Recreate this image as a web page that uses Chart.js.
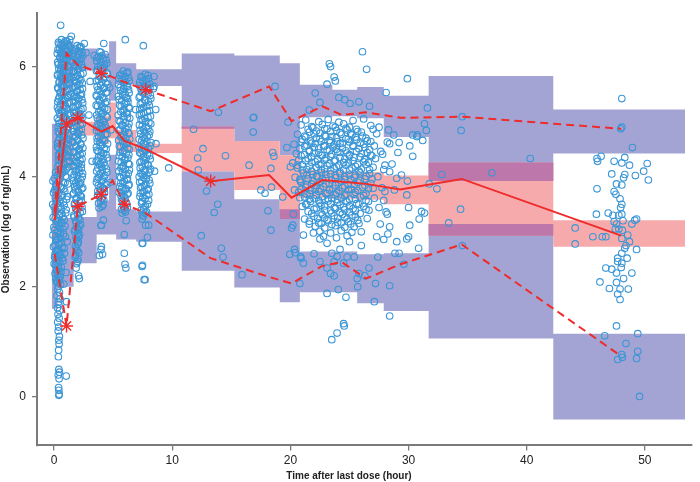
<!DOCTYPE html>
<html><head><meta charset="utf-8">
<script src="https://cdn.jsdelivr.net/npm/chart.js@4.4.1/dist/chart.umd.min.js"></script>
<style>html,body{margin:0;padding:0;background:#fff;}canvas{display:block;}</style>
</head><body>
<canvas id="c" width="700" height="482"></canvas>
<script>
// ---- VPC bins (time after last dose, hours) ----
const binEdges = [-0.2, 0.3, 1.65, 3.6, 4.65, 5.25, 6.95, 10.8, 15.25, 19.1, 20.8, 23.55, 25.65, 27.9, 31.7, 42.25, 53.4];
const binMid   = [0.05, 1.05, 2.0, 4.0, 4.95, 5.95, 7.75, 13.25, 18.2, 20.1, 22.7, 24.35, 26.4, 29.3, 34.5, 48.0];

// observed percentiles
const obsP95 = [3.35, 6.24, 6.03, 5.88, 5.81, 5.72, 5.58, 5.19, 5.64, 5.01, 5.28, 5.12, 5.17, 5.07, 5.09, 4.87];
const obsP50 = [3.21, 4.96, 5.07, 4.82, 4.92, 4.65, 4.50, 3.92, 4.03, 3.62, 3.94, 3.91, 3.87, 3.77, 3.96, 2.93];
const obsP05 = [2.60, 1.29, 3.46, 3.68, 3.93, 3.50, 3.34, 2.52, 2.18, 2.06, 2.38, 2.45, 2.15, 2.41, 2.77, 0.74];

// simulated confidence intervals per bin
const ciP95Lo = [3.30, 5.60, 5.93, 5.94, 5.38, 5.68, 5.65, 4.87, 4.65, 4.39, 5.08, 5.10, 5.06, 4.72, 3.92, 4.42];
const ciP95Hi = [4.96, 6.45, 6.33, 6.24, 6.46, 6.06, 5.95, 6.24, 6.20, 6.06, 5.67, 5.58, 5.63, 5.47, 5.83, 5.22];
const ciP50Lo = [2.90, 4.15, 4.75, 4.60, 4.70, 4.45, 4.43, 4.10, 3.76, 3.23, 3.62, 3.60, 3.58, 3.50, 2.93, 2.73];
const ciP50Hi = [3.45, 4.80, 5.00, 5.10, 5.35, 4.85, 4.60, 4.91, 4.65, 4.39, 4.12, 4.10, 4.08, 4.02, 4.26, 3.21];
const ciP05Lo = [1.60, 2.00, 2.43, 2.95, 2.95, 2.86, 2.82, 2.29, 1.99, 1.72, 1.90, 1.90, 1.70, 1.56, 1.06, -0.41];
const ciP05Hi = [2.95, 3.25, 3.27, 3.57, 4.40, 3.41, 3.37, 4.10, 3.59, 3.41, 2.64, 2.64, 2.59, 2.61, 3.14, 1.15];

const xTicks = [0, 10, 20, 30, 40, 50];
const yTicks = [0, 2, 4, 6];

// ---- observations [time, log conc] ----
const obsT1Upper = [[0.62,6.49],[1.05,6.46],[0.85,6.43],[0.41,6.41],[1.21,6.39],[0.70,6.36],[0.98,6.33],[0.33,6.31],[1.12,6.28],[0.55,6.25],[0.88,6.22],[1.30,6.20],[0.47,6.17],[0.76,6.14],[1.08,6.11],[0.30,6.08],[0.93,6.05],[0.60,6.02],[1.25,5.99],[0.40,5.96],[0.82,5.93],[1.02,5.90],[0.52,5.87],[0.28,5.84],[1.17,5.81],[0.71,5.78],[0.95,5.75],[0.44,5.72],[1.32,5.69],[0.63,5.66],[0.86,5.63],[0.35,5.60],[1.10,5.57],[0.57,5.54],[0.79,5.51],[1.22,5.48],[0.45,5.45],[0.99,5.42],[0.68,5.39],[0.31,5.36],[1.14,5.33],[0.84,5.30],[0.50,5.27],[1.03,5.24],[0.38,5.21],[0.74,5.18],[1.27,5.15],[0.59,5.12],[0.91,5.09],[0.27,5.06],[1.07,5.03],[0.66,5.00],[0.43,4.97],[0.96,4.94],[1.19,4.91],[0.54,4.88],[0.80,4.85],[0.34,4.82],[1.11,4.79],[0.69,4.76],[0.89,4.73],[0.48,4.70],[1.24,4.67],[0.61,4.64],[0.29,4.61],[1.00,4.58],[0.77,4.55],[0.42,4.52],[1.15,4.49],[0.56,4.46],[0.87,4.43],[0.36,4.40],[1.06,4.37],[0.73,4.34],[0.49,4.31],[1.28,4.28],[0.64,4.25],[0.92,4.22],[0.32,4.19],[1.09,4.16],[0.58,4.13],[0.81,4.10],[0.55,6.75],[1.32,6.49],[1.45,6.55]];
const obsT1UpperB = [[0.95,6.47],[0.36,6.44],[1.15,6.42],[0.58,6.40],[0.80,6.37],[1.35,6.35],[0.46,6.32],[1.02,6.29],[0.68,6.27],[0.27,6.24],[1.20,6.21],[0.77,6.19],[0.51,6.16],[1.00,6.13],[1.38,6.10],[0.64,6.07],[0.35,6.04],[1.13,6.01],[0.87,5.98],[0.55,5.95],[1.28,5.92],[0.72,5.89],[0.32,5.86],[0.97,5.83],[0.60,5.80],[1.33,5.77],[0.82,5.74],[0.42,5.71],[1.06,5.68],[0.74,5.65],[0.30,5.62],[1.24,5.59],[0.92,5.56],[0.50,5.53],[1.36,5.50],[0.66,5.47],[1.12,5.44],[0.37,5.41],[0.85,5.38],[1.26,5.35],[0.56,5.32],[0.96,5.29],[0.28,5.26],[1.18,5.23],[0.63,5.20],[0.90,5.17],[0.46,5.14],[1.34,5.11],[0.78,5.08],[1.04,5.05],[0.40,5.02],[0.98,4.99],[1.29,4.96],[0.70,4.93],[0.33,4.90],[1.16,4.87],[0.60,4.84],[0.94,4.81],[0.45,4.78],[1.30,4.75],[0.78,4.72],[1.05,4.69],[0.38,4.66],[0.88,4.63],[1.20,4.60],[0.55,4.57],[0.30,4.54],[1.02,4.51],[0.71,4.48],[1.33,4.45],[0.47,4.42],[0.93,4.39],[1.18,4.36],[0.62,4.33],[0.35,4.30],[1.07,4.27],[0.80,4.24],[0.44,4.21],[1.25,4.18],[0.67,4.15],[1.00,4.12],[0.39,4.09]];
const obsT1Lower = [[0.12,4.08],[0.55,4.05],[0.95,4.01],[0.02,3.97],[0.38,3.94],[0.78,3.90],[1.15,3.87],[0.20,3.83],[0.62,3.80],[0.05,3.76],[0.90,3.73],[0.33,3.69],[0.70,3.66],[0.10,3.62],[1.05,3.59],[0.45,3.55],[0.25,3.52],[0.85,3.48],[0.00,3.45],[0.58,3.41],[0.15,3.38],[0.98,3.34],[0.40,3.31],[0.72,3.27],[0.08,3.24],[0.28,3.20],[0.65,3.17],[0.18,3.13],[0.92,3.10],[0.48,3.06],[0.03,3.03],[0.35,2.99],[0.80,2.96],[0.13,2.92],[0.55,2.89],[0.22,2.85],[1.10,2.82],[0.42,2.78],[0.07,2.75],[0.68,2.71],[0.30,2.68],[0.16,2.64],[0.88,2.61],[0.50,2.57],[0.04,2.54],[0.36,2.50],[0.75,2.47],[0.24,2.43],[0.11,2.40],[0.60,2.36],[0.40,2.33],[0.19,2.29],[1.00,2.26],[0.30,2.22],[0.52,2.19],[0.14,2.15],[0.45,2.12],[0.27,2.08],[0.82,2.05],[0.35,2.01]];
const obsT1LowerB = [[0.70,4.07],[0.28,4.03],[1.08,3.99],[0.48,3.96],[-0.10,3.92],[0.92,3.89],[0.15,3.85],[0.52,3.82],[0.82,3.78],[0.25,3.74],[-0.05,3.71],[0.60,3.67],[1.12,3.64],[0.38,3.61],[0.18,3.57],[0.78,3.54],[-0.12,3.50],[0.55,3.47],[0.32,3.43],[1.02,3.40],[0.10,3.36],[0.65,3.33],[0.45,3.29],[-0.08,3.26],[0.85,3.22],[0.20,3.19],[0.58,3.15],[0.38,3.12],[-0.02,3.08],[0.75,3.05],[0.25,3.01],[0.52,2.98],[-0.10,2.94],[0.95,2.91],[0.32,2.87],[0.15,2.84],[0.62,2.80],[0.42,2.77],[-0.05,2.73],[0.85,2.70],[0.22,2.66],[0.55,2.63],[0.08,2.59],[0.30,2.56],[0.70,2.52],[0.18,2.49],[0.48,2.45],[0.00,2.42],[0.35,2.38],[0.25,2.31],[0.58,2.27],[0.08,2.24],[0.40,2.17],[0.20,2.10],[0.55,2.04]];
const obsT1Tail = [[0.30,1.96],[0.45,1.90],[0.25,1.84],[0.50,1.78],[0.35,1.72],[0.40,1.68],[0.28,1.62],[0.47,1.57],[0.33,1.50],[0.42,1.43],[0.30,1.36],[0.38,1.27],[0.35,1.20],[0.45,1.10],[0.40,1.03],[0.42,0.96],[0.38,0.85],[0.36,0.73],[0.40,0.50],[0.45,0.45],[0.35,0.40],[0.42,0.33],[0.38,0.17],[0.40,0.12],[0.43,0.05],[0.40,0.03],[1.02,0.38],[1.05,1.73]];
const obsT2 = [[1.95,6.38],[2.20,6.34],[1.72,6.30],[2.35,6.26],[2.05,6.22],[1.60,6.18],[2.28,6.14],[1.88,6.10],[2.12,6.06],[1.70,6.02],[2.40,5.98],[1.98,5.94],[1.63,5.90],[2.25,5.86],[1.85,5.82],[2.10,5.78],[1.75,5.74],[2.38,5.70],[2.00,5.66],[1.58,5.62],[2.20,5.58],[1.90,5.54],[2.32,5.50],[1.68,5.46],[2.08,5.42],[1.80,5.38],[2.42,5.34],[1.95,5.30],[1.62,5.26],[2.27,5.22],[1.87,5.18],[2.15,5.14],[1.73,5.10],[2.36,5.06],[2.02,5.02],[1.57,4.98],[2.22,4.94],[1.92,4.90],[2.30,4.86],[1.66,4.82],[2.06,4.78],[1.82,4.74],[2.44,4.70],[1.97,4.66],[1.60,4.62],[2.24,4.58],[1.86,4.54],[2.13,4.50],[1.71,4.46],[2.37,4.42],[2.00,4.38],[1.64,4.34],[2.19,4.30],[1.89,4.26],[2.31,4.22],[1.69,4.18],[2.09,4.14],[1.79,4.10],[2.41,4.06],[1.94,4.02],[1.61,3.98],[2.26,3.94],[1.84,3.90],[2.16,3.86],[1.74,3.82],[2.34,3.78],[2.03,3.74],[1.66,3.70],[2.21,3.66],[1.91,3.62],[2.29,3.57],[1.76,3.52],[2.07,3.47],[1.83,3.42],[2.39,3.37],[1.98,3.32],[1.70,3.27],[2.18,3.22],[1.88,3.16],[2.12,3.10],[1.78,3.04],[2.00,2.97],[1.85,2.90],[2.05,2.82],[1.80,2.74],[1.95,2.66],[1.82,2.58],[2.02,2.50],[1.90,2.42],[1.86,2.34],[2.07,2.20],[2.13,2.15],[2.16,6.36],[2.55,6.42],[2.70,6.25],[3.05,5.73],[2.94,5.12],[3.22,4.28],[2.07,3.04],[2.07,2.91]];
const obsT2B = [[2.28,6.36],[1.82,6.32],[2.10,6.28],[1.65,6.24],[2.42,6.20],[1.95,6.16],[2.18,6.12],[1.58,6.08],[2.32,6.04],[1.85,6.00],[2.06,5.96],[1.70,5.92],[2.45,5.88],[2.00,5.84],[1.62,5.80],[2.26,5.76],[1.90,5.72],[2.14,5.68],[1.76,5.64],[2.40,5.60],[1.98,5.56],[1.60,5.52],[2.22,5.48],[1.87,5.44],[2.35,5.40],[1.68,5.36],[2.04,5.32],[1.80,5.28],[2.44,5.24],[2.10,5.20],[1.64,5.16],[2.28,5.12],[1.93,5.08],[2.17,5.04],[1.72,5.00],[2.38,4.96],[1.88,4.92],[1.60,4.88],[2.12,4.84],[1.95,4.80],[2.33,4.76],[1.74,4.72],[2.02,4.68],[1.57,4.64],[2.26,4.60],[1.84,4.56],[2.43,4.52],[2.05,4.48],[1.67,4.44],[2.20,4.40],[1.92,4.36],[2.36,4.32],[1.75,4.28],[2.10,4.24],[1.62,4.20],[2.30,4.16],[1.86,4.12],[2.16,4.08],[1.70,4.04],[2.38,4.00],[2.00,3.96],[1.64,3.92],[2.24,3.88],[1.90,3.84],[2.42,3.80],[1.78,3.76],[2.08,3.72],[1.60,3.68],[2.30,3.64],[1.86,3.60],[2.14,3.55],[1.72,3.50],[2.36,3.45],[1.94,3.40],[2.20,3.35],[1.66,3.30],[2.05,3.25],[1.82,3.20],[2.25,3.13],[1.96,3.07],[1.72,3.01],[2.15,2.94],[1.92,2.86],[2.00,2.78],[1.88,2.70],[2.08,2.62],[1.78,2.54],[1.98,2.46]];
const obsT4 = [[4.20,6.42],[3.85,6.27],[4.05,6.20],[3.62,6.16],[4.40,6.12],[3.95,6.08],[4.25,6.04],[3.70,6.00],[4.12,5.96],[3.58,5.92],[4.48,5.88],[3.90,5.84],[4.30,5.80],[3.75,5.76],[4.02,5.72],[4.55,5.68],[3.64,5.64],[4.18,5.60],[3.88,5.56],[4.38,5.52],[3.56,5.48],[4.08,5.44],[3.80,5.40],[4.45,5.36],[3.98,5.32],[3.68,5.28],[4.28,5.24],[3.92,5.20],[4.15,5.16],[3.60,5.12],[4.50,5.08],[3.84,5.04],[4.22,5.00],[3.72,4.96],[4.05,4.92],[4.42,4.88],[3.58,4.84],[3.96,4.80],[4.33,4.76],[3.78,4.72],[4.10,4.68],[3.66,4.64],[4.52,4.60],[3.90,4.56],[4.24,4.52],[3.62,4.48],[4.00,4.44],[4.40,4.40],[3.76,4.36],[4.14,4.32],[3.56,4.28],[3.94,4.24],[4.30,4.20],[3.70,4.16],[4.07,4.12],[4.46,4.08],[3.82,4.04],[4.20,4.00],[3.64,3.96],[3.99,3.92],[4.36,3.88],[3.74,3.84],[4.12,3.80],[3.88,3.76],[4.26,3.71],[3.68,3.66],[4.03,3.61],[3.93,3.55],[4.15,3.49],[3.80,3.43],[4.00,3.12],[4.00,2.73],[3.97,2.68],[4.10,2.59],[3.83,2.57],[4.05,3.60],[3.97,6.26],[4.70,5.62],[4.80,4.85],[4.75,3.90],[3.40,6.20],[4.17,3.21],[3.97,3.12]];
const obsT4B = [[4.32,6.22],[3.76,6.18],[4.15,6.14],[3.60,6.10],[4.45,6.06],[3.92,6.02],[4.22,5.98],[3.68,5.94],[4.05,5.90],[4.52,5.86],[3.82,5.82],[4.16,5.78],[3.58,5.74],[4.36,5.70],[3.94,5.66],[4.26,5.62],[3.72,5.58],[4.48,5.54],[3.98,5.50],[3.62,5.46],[4.20,5.42],[3.86,5.38],[4.32,5.34],[3.56,5.30],[4.10,5.26],[4.50,5.22],[3.78,5.18],[4.02,5.14],[4.40,5.10],[3.66,5.06],[4.12,5.02],[3.90,4.98],[4.30,4.94],[3.60,4.90],[4.18,4.86],[3.80,4.82],[4.48,4.78],[3.98,4.74],[3.64,4.70],[4.26,4.66],[3.86,4.62],[4.08,4.58],[3.58,4.54],[4.40,4.50],[3.74,4.46],[4.18,4.42],[3.94,4.38],[4.50,4.34],[3.66,4.30],[4.22,4.26],[3.84,4.22],[4.04,4.18],[4.42,4.14],[3.60,4.10],[3.96,4.06],[4.30,4.02],[3.76,3.98],[4.14,3.94],[3.58,3.90],[4.46,3.86],[3.92,3.82],[4.24,3.78],[3.70,3.74],[4.08,3.69],[3.84,3.64],[4.20,3.58],[3.76,3.52],[4.05,3.46]];
const obsT6 = [[6.02,6.49],[5.85,5.92],[6.15,5.88],[5.55,5.84],[6.30,5.80],[5.75,5.76],[6.05,5.72],[5.45,5.68],[6.22,5.64],[5.90,5.60],[5.62,5.56],[6.35,5.52],[5.80,5.48],[6.10,5.44],[5.50,5.40],[6.25,5.36],[5.95,5.32],[5.68,5.28],[6.38,5.24],[5.83,5.20],[6.12,5.16],[5.42,5.12],[6.20,5.08],[5.92,5.04],[5.60,5.00],[6.33,4.96],[5.78,4.92],[6.07,4.88],[5.48,4.84],[6.27,4.80],[5.88,4.76],[5.65,4.72],[6.40,4.68],[5.82,4.64],[6.14,4.60],[5.52,4.56],[6.23,4.52],[5.97,4.48],[5.58,4.44],[6.32,4.40],[5.76,4.36],[6.04,4.32],[5.46,4.28],[6.28,4.24],[5.86,4.20],[5.66,4.16],[6.37,4.12],[5.80,4.08],[6.10,4.04],[5.54,4.00],[6.21,3.96],[5.94,3.92],[5.62,3.88],[6.30,3.84],[5.74,3.80],[6.03,3.76],[5.50,3.72],[6.18,3.68],[5.90,3.64],[5.70,3.59],[6.08,3.54],[5.84,3.49],[6.20,3.44],[5.96,3.39],[5.76,3.34],[5.94,2.95],[5.94,2.61],[6.00,2.41],[6.07,2.34],[6.10,3.20],[6.90,5.22]];
const obsT6B = [[6.25,5.90],[5.70,5.86],[6.00,5.82],[5.48,5.78],[6.36,5.74],[5.88,5.70],[6.14,5.66],[5.58,5.62],[6.30,5.58],[5.78,5.54],[6.02,5.50],[5.44,5.46],[6.22,5.42],[5.72,5.38],[6.08,5.34],[5.55,5.30],[6.32,5.26],[5.92,5.22],[5.64,5.18],[6.18,5.14],[5.86,5.10],[6.40,5.06],[5.50,5.02],[6.04,4.98],[5.74,4.94],[6.26,4.90],[5.60,4.86],[5.98,4.82],[6.34,4.78],[5.70,4.74],[6.06,4.70],[5.46,4.66],[6.20,4.62],[5.90,4.58],[5.62,4.54],[6.36,4.50],[5.80,4.46],[6.12,4.42],[5.52,4.38],[6.24,4.34],[5.94,4.30],[5.68,4.26],[6.38,4.22],[5.76,4.18],[6.02,4.14],[5.48,4.10],[6.28,4.06],[5.88,4.02],[5.64,3.98],[6.16,3.94],[5.82,3.90],[6.34,3.86],[5.56,3.82],[6.10,3.78],[5.84,3.74],[6.26,3.70],[5.66,3.66],[6.00,3.62],[5.78,3.56],[6.14,3.51],[5.90,3.46],[5.70,3.41],[6.04,3.36]];
const obsT8 = [[7.55,6.38],[7.70,5.86],[7.35,5.82],[8.00,5.78],[7.50,5.74],[7.85,5.70],[7.20,5.66],[8.12,5.62],[7.62,5.58],[7.40,5.54],[7.95,5.50],[7.28,5.46],[8.18,5.42],[7.75,5.38],[7.45,5.34],[8.05,5.30],[7.58,5.26],[7.25,5.22],[7.90,5.18],[7.38,5.14],[8.15,5.10],[7.68,5.06],[7.48,5.02],[8.02,4.98],[7.22,4.94],[7.80,4.90],[7.55,4.86],[8.10,4.82],[7.32,4.78],[7.88,4.74],[7.65,4.70],[7.42,4.66],[8.20,4.62],[7.72,4.58],[7.18,4.54],[7.98,4.50],[7.52,4.46],[7.36,4.42],[8.08,4.38],[7.78,4.34],[7.60,4.30],[7.26,4.26],[7.92,4.22],[7.46,4.18],[8.16,4.14],[7.70,4.10],[7.34,4.06],[7.86,4.02],[7.57,3.98],[8.04,3.94],[7.24,3.90],[7.76,3.86],[7.44,3.82],[7.96,3.78],[7.62,3.74],[7.30,3.70],[7.84,3.66],[7.50,3.62],[8.00,3.57],[7.40,3.52],[7.72,3.47],[7.58,3.41],[7.82,3.36],[7.48,3.31],[7.45,3.23],[7.45,2.79],[7.48,2.39],[7.70,2.13],[7.62,2.13],[7.90,2.90],[7.75,3.12],[8.00,3.12],[7.50,2.79],[7.45,2.37],[8.45,5.82],[8.45,5.64],[8.60,5.22],[8.62,4.60],[8.50,4.10],[8.40,5.60]];
const obsT8B = [[7.95,5.84],[7.45,5.80],[7.80,5.76],[7.25,5.72],[8.10,5.68],[7.60,5.64],[7.35,5.60],[7.92,5.56],[7.52,5.52],[8.15,5.48],[7.20,5.44],[7.66,5.40],[7.98,5.36],[7.30,5.32],[7.82,5.28],[7.42,5.24],[8.08,5.20],[7.58,5.16],[7.22,5.12],[7.94,5.08],[7.36,5.04],[7.74,5.00],[8.18,4.96],[7.46,4.92],[7.96,4.88],[7.28,4.84],[7.68,4.80],[8.04,4.76],[7.50,4.72],[7.20,4.68],[7.84,4.64],[7.56,4.60],[8.12,4.56],[7.40,4.52],[7.76,4.48],[7.24,4.44],[7.90,4.40],[7.54,4.36],[8.14,4.32],[7.38,4.28],[7.70,4.24],[7.98,4.20],[7.28,4.16],[7.60,4.12],[8.06,4.08],[7.48,4.04],[7.20,4.00],[7.80,3.96],[7.42,3.92],[8.10,3.88],[7.64,3.84],[7.32,3.80],[7.88,3.76],[7.52,3.72],[8.02,3.68],[7.26,3.64],[7.70,3.60],[7.46,3.55],[7.90,3.50],[7.60,3.45],[7.36,3.39],[7.72,3.34],[7.55,3.28]];
const obsMid = [[9.70,4.16],[11.80,4.86],[12.15,4.34],[12.60,4.51],[12.20,4.12],[12.90,3.74],[13.90,5.17],[14.50,4.38],[13.85,3.50],[13.55,3.35],[12.45,2.93],[14.15,2.70],[14.30,2.54],[15.90,2.22],[16.50,4.21],[16.85,5.07],[16.85,4.81],[18.70,5.64],[19.80,4.99],[19.70,4.53],[18.50,4.44],[18.60,4.37],[18.35,4.15],[17.50,3.76],[17.85,3.70],[18.40,3.81],[18.10,3.38],[18.35,3.03],[19.35,3.63],[20.00,4.18],[20.35,3.76],[20.25,3.32],[20.20,3.12],[20.10,3.07],[20.40,2.62],[20.90,2.52],[21.10,2.43],[20.80,2.06],[19.95,2.59],[20.70,4.30],[20.85,3.92],[20.80,3.62],[21.10,2.94],[16.90,5.08]];
const obsCloud = [[21.3,5.03],[22.4,5.00],[23.2,5.04],[24.1,4.99],[25.3,5.02],[26.2,5.05],
[20.9,4.94],[21.8,4.91],[22.7,4.95],[23.6,4.92],[24.5,4.96],[25.0,4.90],[26.8,4.93],
[21.5,4.86],[22.2,4.83],[23.1,4.87],[23.9,4.84],[24.8,4.85],[25.7,4.82],[27.0,4.86],
[20.6,4.77],[21.2,4.74],[22.0,4.78],[22.9,4.75],[23.5,4.73],[24.3,4.77],[25.2,4.76],[26.1,4.74],[27.3,4.78],
[21.0,4.68],[21.7,4.65],[22.5,4.69],[23.3,4.66],[24.0,4.64],[24.9,4.68],[25.6,4.67],[26.5,4.65],
[20.3,4.59],[21.4,4.57],[22.1,4.60],[22.8,4.56],[23.7,4.58],[24.4,4.61],[25.3,4.57],[26.2,4.59],[27.1,4.56],[28.4,4.60],
[20.8,4.51],[21.6,4.48],[22.4,4.52],[23.1,4.49],[23.9,4.50],[24.7,4.47],[25.8,4.51],[26.7,4.49],
[20.5,4.42],[21.2,4.40],[22.0,4.43],[22.7,4.39],[23.5,4.41],[24.2,4.44],[25.0,4.40],[26.0,4.42],[26.9,4.38],[27.8,4.41],
[21.5,4.33],[22.3,4.31],[23.0,4.34],[23.8,4.30],[24.6,4.32],[25.4,4.35],[26.3,4.31],[27.2,4.33],
[20.2,4.25],[21.0,4.22],[21.8,4.26],[22.6,4.23],[23.3,4.24],[24.1,4.21],[24.9,4.25],[25.7,4.22],[26.6,4.26],[28.6,4.23],
[20.6,4.16],[21.4,4.13],[22.2,4.17],[22.9,4.14],[23.7,4.15],[24.5,4.12],[25.2,4.16],[26.0,4.14],[27.0,4.17],[27.9,4.13],
[21.1,4.07],[21.9,4.04],[22.6,4.08],[23.4,4.05],[24.2,4.06],[25.0,4.03],[25.9,4.07],[26.7,4.05],
[20.4,3.99],[21.5,3.96],[22.3,4.00],[23.0,3.97],[23.8,3.98],[24.6,3.95],[25.4,3.99],[26.3,3.96],[27.4,4.00],[29.0,3.97],
[20.9,3.90],[21.8,3.87],[22.5,3.91],[23.3,3.88],[24.1,3.89],[24.9,3.86],[25.7,3.90],[26.8,3.88],
[21.3,3.81],[22.1,3.78],[22.8,3.82],[23.6,3.79],[24.4,3.80],[25.2,3.77],[26.1,3.81],[27.0,3.79],
[20.7,3.72],[21.6,3.69],[22.4,3.73],[23.1,3.70],[23.9,3.71],[24.7,3.68],[25.5,3.72],[26.4,3.70],[28.0,3.73],
[21.2,3.63],[22.0,3.60],[22.7,3.64],[23.5,3.61],[24.3,3.62],[25.0,3.59],[25.9,3.63],[27.1,3.61],
[21.7,3.55],[22.5,3.52],[23.2,3.56],[24.0,3.53],[24.8,3.54],[25.6,3.51],[26.6,3.55],
[21.0,3.46],[22.2,3.43],[22.9,3.47],[23.7,3.44],[24.5,3.45],[25.3,3.42],[26.2,3.46],[27.5,3.44],
[21.5,3.37],[22.6,3.34],[23.4,3.38],[24.2,3.35],[25.0,3.36],[25.9,3.33],
[22.0,3.28],[22.9,3.25],[23.7,3.29],[24.6,3.26],[25.5,3.27],[26.5,3.24],
[21.6,3.19],[22.4,3.16],[23.2,3.20],[24.0,3.17],[24.9,3.18],[25.8,3.15],
[22.1,3.10],[22.9,3.07],[23.8,3.11],[24.6,3.08],[25.4,3.09],
[22.5,3.01],[23.4,2.98],[24.3,3.02],[25.2,2.99],[26.0,3.00],
[22.8,2.92],[23.9,2.89],[24.8,2.93]];
const obsCloudB = [[21.9,4.89],[22.9,4.87],[23.8,4.90],[24.7,4.88],[25.6,4.86],
[21.6,4.81],[22.5,4.79],[23.4,4.82],[24.2,4.80],[25.1,4.78],[26.0,4.81],
[21.3,4.72],[22.2,4.70],[23.0,4.73],[23.9,4.71],[24.7,4.69],[25.5,4.72],[26.4,4.70],
[20.9,4.63],[21.8,4.61],[22.6,4.64],[23.4,4.62],[24.2,4.60],[25.0,4.63],[25.9,4.61],[26.8,4.64],
[21.2,4.55],[22.0,4.53],[22.9,4.56],[23.6,4.54],[24.4,4.52],[25.3,4.55],[26.3,4.53],
[21.6,4.46],[22.4,4.44],[23.3,4.47],[24.0,4.45],[24.8,4.43],[25.6,4.46],[26.5,4.44],
[20.9,4.38],[21.8,4.36],[22.6,4.39],[23.4,4.37],[24.2,4.35],[25.0,4.38],[25.9,4.36],[26.8,4.39],
[21.3,4.29],[22.1,4.27],[22.9,4.30],[23.7,4.28],[24.5,4.26],[25.3,4.29],[26.2,4.27],
[20.6,4.21],[21.6,4.19],[22.4,4.22],[23.1,4.20],[23.9,4.18],[24.7,4.21],[25.5,4.19],[26.4,4.22],
[21.0,4.12],[21.8,4.10],[22.6,4.13],[23.4,4.11],[24.2,4.09],[25.0,4.12],[25.8,4.10],[26.7,4.13],
[21.4,4.03],[22.2,4.01],[23.0,4.04],[23.8,4.02],[24.6,4.00],[25.5,4.03],[26.4,4.01],
[20.8,3.95],[21.9,3.93],[22.7,3.96],[23.5,3.94],[24.3,3.92],[25.1,3.95],[25.9,3.93],[26.9,3.96],
[21.4,3.86],[22.2,3.84],[23.0,3.87],[23.8,3.85],[24.6,3.83],[25.4,3.86],[26.3,3.84],
[20.9,3.77],[21.7,3.75],[22.5,3.78],[23.3,3.76],[24.1,3.74],[24.9,3.77],[25.7,3.75],[26.6,3.78],
[21.4,3.68],[22.2,3.66],[23.0,3.69],[23.8,3.67],[24.6,3.65],[25.4,3.68],[26.2,3.66],
[21.6,3.59],[22.4,3.57],[23.2,3.60],[24.0,3.58],[24.7,3.56],[25.5,3.59],[26.4,3.57],
[21.4,3.50],[22.6,3.48],[23.4,3.51],[24.2,3.49],[25.0,3.47],[25.8,3.50],
[22.0,3.41],[22.9,3.39],[23.8,3.42],[24.6,3.40],[25.5,3.38],[26.4,3.41],
[21.8,3.33],[22.7,3.31],[23.5,3.34],[24.4,3.32],[25.2,3.30],
[22.3,3.24],[23.1,3.22],[24.0,3.25],[24.8,3.23],[25.7,3.21],
[22.6,3.15],[23.5,3.13],[24.3,3.16],[25.1,3.14]];
const obsCloudEdge = [[26.1,6.27],[23.3,6.05],[23.4,6.00],[23.7,5.81],[23.8,5.74],[26.45,5.95],[29.9,5.78],[28.1,5.53],[23.1,5.68],[24.1,5.44],[22.5,5.35],[25.05,5.33],[26.7,5.28],[21.6,5.21],[22.1,5.52],[24.6,5.40],[25.8,5.36],
[31.35,4.96],[30.35,4.76],[30.75,4.76],[29.2,4.62],[30.1,4.56],[30.35,4.37],[29.4,4.03],[29.9,3.92],[30.0,3.44],[30.9,3.23],[31.35,3.34],[30.1,3.12],[30.0,2.91],[27.5,4.90],[28.3,4.85],[28.75,4.76],[28.2,4.63],[27.65,4.46],[29.1,4.44],[28.0,4.21],[28.4,4.09],[27.75,3.80],[28.8,3.76],[27.9,3.57],[28.2,3.32],[27.6,3.14],[28.4,3.09],[29.85,3.67],[27.9,2.86],[29.0,2.82],[30.7,4.73],[30.85,2.70],[31.1,3.37],[29.85,2.87],[28.1,3.36],[28.25,2.96],[27.3,2.91],[26.65,3.39],
[21.95,2.98],[22.5,2.87],[23.1,2.79],[23.5,2.61],[23.95,2.55],[24.8,2.54],[25.4,2.54],[23.7,2.46],[24.5,2.43],[23.1,2.34],[23.4,2.24],[23.7,2.20],[22.5,2.46],[25.8,2.24],[25.65,2.15],[26.3,2.20],[26.65,2.34],[27.2,2.06],[27.4,2.54],[28.85,2.61],[29.2,2.61],[29.6,2.41],[21.3,3.50],[21.2,3.23],[21.6,3.14],[20.35,2.68],[20.85,2.55],[23.1,1.88],[24.05,1.95],[24.7,1.81],[27.1,1.73],[28.4,1.47],[24.5,1.33],[23.5,1.04],[23.95,1.16],[24.55,1.29],[28.4,2.02],[25.7,2.00],[22.0,2.60],[24.2,2.68],[26.0,2.75],[25.0,2.82]];
const obsLate = [[34.55,5.09],[34.45,4.84],[40.3,4.33],[37.05,4.07],[32.8,4.04],[32.4,3.78],[31.75,3.87],[34.4,3.41],[33.4,3.16],[31.5,4.84],[31.2,4.66],[34.55,2.75],[44.1,3.07],[44.1,2.78],[31.6,5.25]];
const obsLast = [[48.05,5.42],[48.05,4.90],[47.95,4.87],[48.95,4.53],[45.95,4.33],[46.0,4.28],[46.3,4.37],[47.4,4.28],[48.3,4.35],[48.05,4.25],[48.7,4.21],[50.2,4.24],[49.9,4.10],[50.3,3.94],[49.2,4.02],[48.3,4.04],[48.2,3.98],[47.2,4.05],[47.6,3.87],[48.05,3.85],[45.95,3.78],[47.4,3.73],[47.55,3.68],[48.05,3.50],[47.95,3.44],[48.05,3.32],[45.9,3.32],[46.9,3.34],[47.3,3.30],[47.8,3.30],[47.4,3.18],[47.6,3.14],[48.9,3.14],[49.15,3.21],[49.3,3.23],[47.5,3.05],[47.8,3.05],[48.1,3.03],[45.6,2.91],[46.4,2.91],[46.7,2.91],[48.55,2.94],[48.05,2.88],[48.7,2.82],[48.4,2.75],[49.3,2.68],[48.05,2.61],[47.7,2.52],[47.7,2.46],[48.5,2.52],[48.05,2.43],[46.7,2.34],[47.2,2.32],[47.6,2.25],[48.9,2.25],[46.2,2.09],[47.6,2.08],[47.0,1.97],[47.9,1.96],[48.6,1.96],[47.7,1.87],[47.9,1.77],[47.6,1.29],[46.6,1.11],[49.4,1.15],[48.4,0.97],[49.4,0.83],[49.3,0.70],[48.05,0.77],[47.7,0.68],[49.55,0.01],[48.1,0.72],[48.2,2.15],[48.0,2.35],[48.3,2.70],[47.9,3.60],[48.15,3.20]];

// ---- fonts ----
function hasFont(name){
  const c=document.createElement('canvas').getContext('2d');
  const s='Time after last dose 0123456';
  c.font='40px monospace'; const w0=c.measureText(s).width;
  c.font='40px "'+name+'", monospace'; return Math.abs(c.measureText(s).width-w0)>0.5;
}
const narrowOK = hasFont('Liberation Sans Narrow');
const FAM = narrowOK ? '"Liberation Sans Narrow", "Liberation Sans", Arial, sans-serif' : '"Liberation Sans", Arial, sans-serif';
const tickSize = narrowOK ? 13 : 12;
const titleSize = narrowOK ? 12 : 10;
Chart.defaults.font.family = FAM;
Chart.defaults.color = '#222';

// ---- build datasets ----
const toXY = arr => arr.map(p => ({x:p[0], y:p[1]}));
const stepPts = vals => {
  const pts = vals.map((v,i) => ({x: binEdges[i], y: v}));
  pts.push({x: binEdges[binEdges.length-1], y: vals[vals.length-1]});
  return pts;
};
const PURPLE = '#a4a4d4';
const PINK = '#f6aaac';
const MAGENTA = '#be77aa';
const RED = '#ef2b2b';
const BLUE = '#3b96d6';

function bandSets(lo, hi, color, order){
  return [
    {type:'line', data: stepPts(lo), stepped:true, borderWidth:0, pointRadius:0, fill:false, order},
    {type:'line', data: stepPts(hi), stepped:true, borderWidth:0, pointRadius:0, fill:'-1', backgroundColor: color, order}
  ];
}
// overlap of the median CI with the outer CIs (drawn in the mixed colour)
function overlap(aLo, aHi, bLo, bHi){
  const lo = aLo.map((v,i) => Math.max(v, bLo[i]));
  const hi = aHi.map((v,i) => Math.min(v, bHi[i]));
  return [lo, hi.map((v,i) => Math.max(v, lo[i]))];
}
const ovHi = overlap(ciP50Lo, ciP50Hi, ciP95Lo, ciP95Hi);
const ovLo = overlap(ciP50Lo, ciP50Hi, ciP05Lo, ciP05Hi);

const allObs = [].concat(obsT1Upper, obsT1UpperB, obsT1Lower, obsT1LowerB, obsT1Tail, obsT2, obsT2B, obsT4, obsT4B, obsT6, obsT6B, obsT8, obsT8B, obsMid, obsCloud, obsCloudB, obsCloudEdge, obsLate, obsLast);

const stars = [];
binMid.forEach((t,i) => {
  if (obsP95[i] < ciP95Lo[i] || obsP95[i] > ciP95Hi[i]) stars.push({x:t, y:obsP95[i]});
  if (obsP50[i] < ciP50Lo[i] || obsP50[i] > ciP50Hi[i]) stars.push({x:t, y:obsP50[i]});
  if (obsP05[i] < ciP05Lo[i] || obsP05[i] > ciP05Hi[i]) stars.push({x:t, y:obsP05[i]});
});
const lineData = vals => binMid.map((t,i) => ({x:t, y:vals[i]}));

const datasets = [].concat(
  bandSets(ciP95Lo, ciP95Hi, PURPLE, 7),
  bandSets(ciP05Lo, ciP05Hi, PURPLE, 7),
  bandSets(ciP50Lo, ciP50Hi, PINK, 6),
  bandSets(ovHi[0], ovHi[1], MAGENTA, 5),
  bandSets(ovLo[0], ovLo[1], MAGENTA, 5),
  [
    {type:'scatter', data: toXY(allObs), pointStyle:'circle', pointRadius:3.3, pointBorderWidth:1.1, pointBorderColor: BLUE, pointBackgroundColor:'rgba(0,0,0,0)', order:3},
    {type:'line', data: lineData(obsP95), borderColor: RED, borderWidth:2, borderDash:[8,5], pointRadius:0, fill:false, order:2},
    {type:'line', data: lineData(obsP50), borderColor: RED, borderWidth:2, pointRadius:0, fill:false, order:2},
    {type:'line', data: lineData(obsP05), borderColor: RED, borderWidth:2, borderDash:[8,5], pointRadius:0, fill:false, order:2},
    {type:'scatter', data: stars, pointStyle:'star', pointRadius:6.5, pointBorderWidth:1.4, pointBorderColor: RED, pointBackgroundColor: RED, order:1}
  ]
);

const AX = '#7a7a7a';
new Chart(document.getElementById('c'), {
  type: 'scatter',
  data: { datasets },
  options: {
    responsive: false, animation: false, devicePixelRatio: 1,
    layout: { padding: { top: 2, right: 2, left: 0, bottom: 0 } },
    plugins: {
      legend: { display: false },
      tooltip: { enabled: false },
      title: { display: true, position: 'bottom', text: 'Time after last dose (hour)', color: '#222',
               font: { family: FAM, size: titleSize, weight: 'bold' }, padding: { top: 2, bottom: 0 } }
    },
    scales: {
      x: {
        type: 'linear', min: -1.45, max: 54.0,
        afterBuildTicks: s => { s.ticks = xTicks.map(v => ({value: v})); },
        afterFit: s => { s.height = 22.6; },
        grid: { drawOnChartArea: false, drawTicks: true, tickLength: 5, color: AX, lineWidth: 1.3 },
        border: { display: true, color: AX, width: 2 },
        ticks: { padding: 3, color: '#222', font: { family: FAM, size: tickSize }, maxRotation: 0 },
        title: { display: false }
      },
      y: {
        type: 'linear', min: -0.88, max: 6.97,
        afterBuildTicks: s => { s.ticks = yTicks.map(v => ({value: v})); },
        afterFit: s => { s.width = 37; },
        grid: { drawOnChartArea: false, drawTicks: true, tickLength: 5, color: AX, lineWidth: 1.3 },
        border: { display: true, color: AX, width: 2 },
        ticks: { padding: 6, color: '#222', font: { family: FAM, size: tickSize } },
        title: { display: true, text: 'Observation (log of ng/mL)', color: '#222', padding: { top: 0, bottom: 0 },
                 font: { family: FAM, size: titleSize, weight: 'bold' } }
      }
    }
  }
});
</script>
</body></html>
